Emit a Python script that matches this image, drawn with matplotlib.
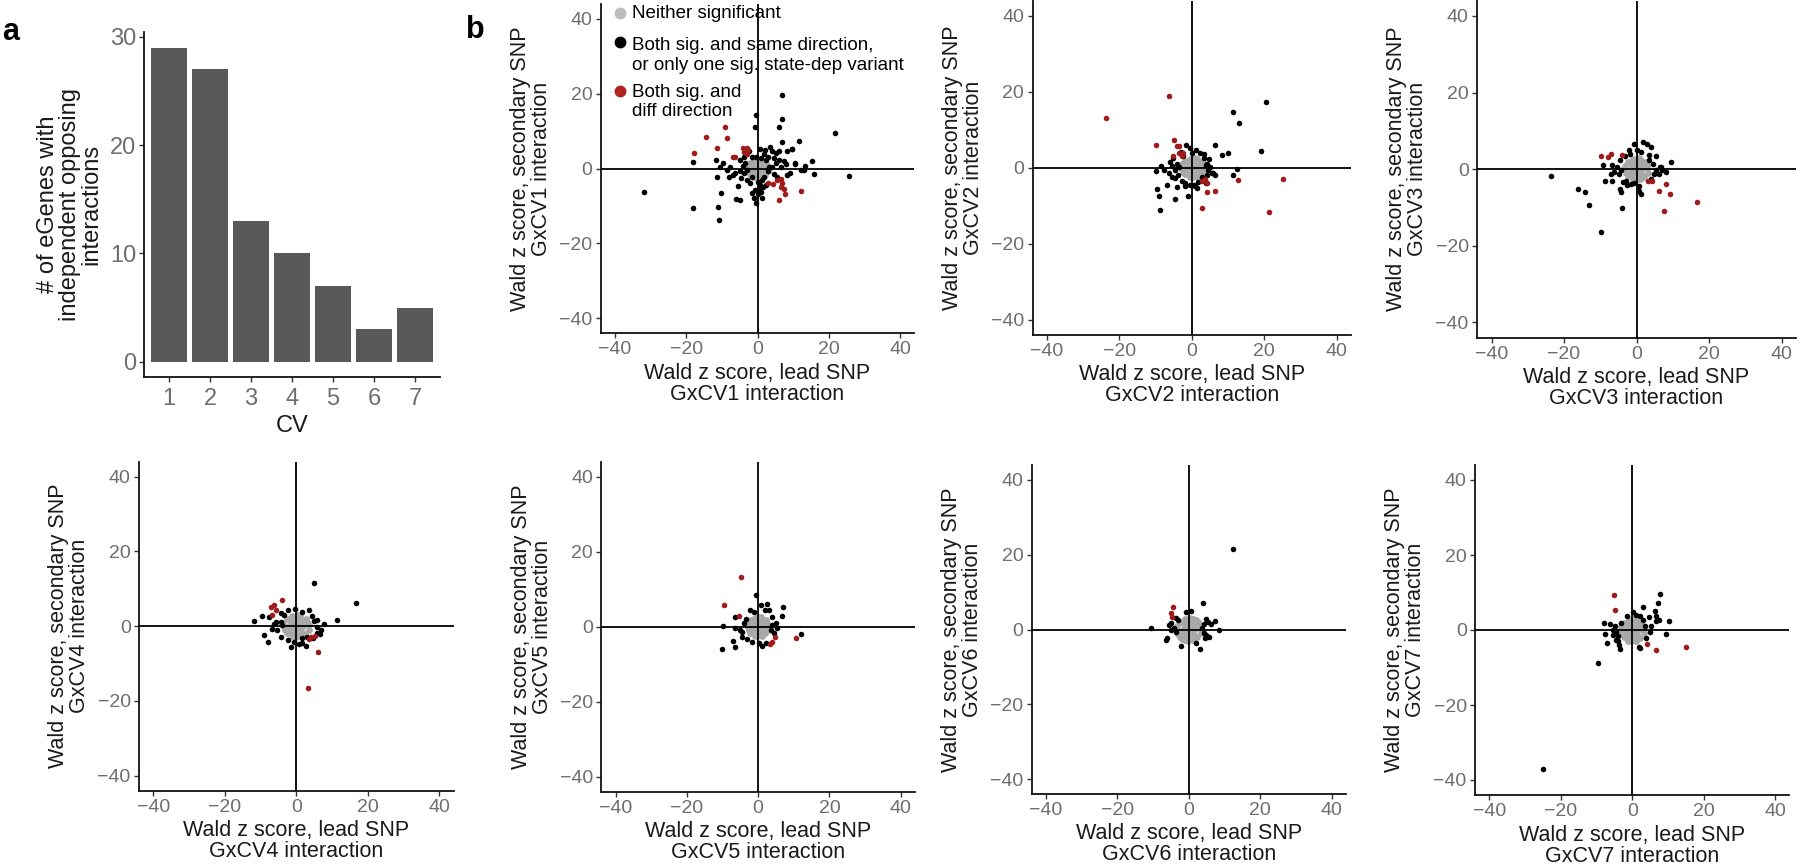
import matplotlib
matplotlib.use("Agg")
import matplotlib.pyplot as plt

plt.rcParams['font.family'] = ['Liberation Sans', 'DejaVu Sans']
plt.rcParams['axes.unicode_minus'] = True

W, H = 1800, 866

# ---------------- data ----------------
cv_labels = ["1", "2", "3", "4", "5", "6", "7"]
cv_counts = [29, 27, 13, 10, 7, 3, 5]

ticks = [-40, -20, 0, 20, 40]

legend_labels = ["Neither significant",
                 "Both sig. and same direction,\nor only one sig. state-dep variant",
                 "Both sig. and\ndiff direction"]

cv1_gray = [(0,0),(1.5,0.1),(-1.5,-0.1),(0.1,1.4),(-0.1,-1.4),(1.2,1.1),(-1.2,1.2),(1.1,-1.2),(-1.2,-1.1),(2.8,0.3),(-2.8,-0.2),(0.3,2.4),(-0.2,-2.4),(2.2,1.5),(-2.1,1.6),(2.0,-1.7),(-2.2,-1.5),(3.0,-0.8),(-3.0,0.8),(0.9,2.3),(-0.9,2.2),(1.0,-2.3),(-1.0,-2.3),(2.6,1.0),(-2.6,-1.0),(0.7,0.6),(-0.6,-0.7),(0.5,-0.8),(-0.7,0.5)]
cv1_black = [(25.7,-2.0),(-32.0,-6.2),(-18.2,-10.6),(-11.2,-10.4),(-10.7,-13.9),(-10.3,-6.6),(6.8,19.7),(6.8,13.3),(-0.5,14.3),(-0.7,11.0),(6.1,11.0),(21.7,9.4),(11.6,7.4),(6.8,7.1),(9.8,5.2),(15.2,2.0),(15.8,-1.6),(12.2,-0.4),(10.5,1.3),(8.1,1.3),(6.0,4.7),(-18.0,1.7),(-11.7,2.2),(-11.3,-2.3),(-8.0,-2.3),(-6.0,-8.2),(-4.8,-8.3),(-1.0,-7.9),(-0.4,-9.2),(1.2,-7.8),(8.2,-1.8),(9.1,-1.2),(-9.6,1.6),(-10.5,0.5),(-6.2,-1.3),(-5.0,-0.8),(-5.5,-4.8),(-0.8,-5.7),(0.7,-4.4),(1.3,-3.0),(0.1,-3.5),(2.2,5.0),(3.5,5.7),(4.1,4.6),(5.3,4.1),(6.0,2.3),(5.1,1.4),(6.5,0.5),(7.3,1.9),(8.2,4.6),(9.7,5.2),(10.4,1.4),(13.2,0.7),(13.0,-0.4),(1.8,3.9),(0.7,5.2),(-2.4,4.6),(-3.8,3.2),(-5.0,2.3),(-3.4,1.4),(-2.9,-0.4),(-3.8,-1.3),(-4.6,-2.6),(-2.9,-3.0),(-1.5,-2.3),(-2.0,-3.9),(1.8,-2.2),(2.9,-0.8),(3.2,0.5),(4.1,0.5),(2.5,2.2),(1.0,2.8),(-0.3,3.2),(-1.5,3.2),(-7.6,0.3),(-8.5,-0.4),(0.5,-5.5),(1.5,-5.0),(-1.5,-6.5),(3.0,3.2),(4.6,2.8),(-4.2,0.6),(-6.8,-1.8),(0.0,-6.8),(1.0,-6.3),(2.5,-4.5),(4.5,-1.5),(5.5,-2.2)]
cv1_red = [(-17.8,4.1),(-14.5,8.3),(-9.2,11.2),(-8.6,8.2),(-11.3,5.6),(-7.0,3.1),(-6.4,3.0),(-4.0,5.6),(-2.9,5.6),(-3.7,4.3),(-3.0,4.0),(-2.8,5.0),(12.1,-6.0),(6.0,-8.5),(2.9,-3.9),(4.4,-4.2),(5.5,-3.0),(6.5,-2.8),(7.0,-3.9),(7.4,-5.6),(7.6,-6.7),(6.5,-4.9)]

cv2_gray = [(0.5,0),(2.0,0.2),(-1.2,-0.1),(0.6,1.5),(0.4,-1.5),(1.8,1.2),(-0.8,1.3),(1.7,-1.3),(-0.9,-1.2),(3.6,0.3),(-2.6,-0.2),(0.8,2.5),(0.3,-2.5),(2.9,1.6),(-1.9,1.7),(2.7,-1.8),(-2.0,-1.6),(4.0,-0.9),(-2.8,0.9),(1.5,2.4),(-0.6,2.4),(1.6,-2.4),(-0.6,-2.4),(3.4,1.1),(-2.4,-1.1),(1.2,0.6),(-0.2,-0.7),(1.0,-0.8),(-0.3,0.6),(2.5,-0.3)]
cv2_black = [(20.6,17.2),(11.3,14.8),(13.0,11.8),(19.2,4.4),(9.9,3.9),(8.4,3.4),(6.3,6.0),(12.4,-0.2),(11.3,-2.0),(-8.7,-11.0),(-9.1,-7.3),(-9.5,-5.5),(-10.0,-0.9),(-4.7,-8.1),(-1.1,-7.4),(-6.8,-4.4),(-4.0,-5.1),(-1.7,5.9),(-8.5,0.6),(-7.8,-0.5),(-0.6,-4.6),(1.4,-5.2),(4.9,2.2),(4.0,0.7),(5.8,-1.5),(6.3,-2.0),(-6.4,-1.5),(-5.5,-2.4),(-4.6,-2.8),(-6.0,1.6),(-5.1,2.5),(-4.1,1.1),(1.2,4.6),(2.3,3.8),(3.4,2.5),(4.1,1.1),(4.6,-0.6),(5.5,-1.5),(4.1,-2.0),(3.2,-2.8),(1.8,-3.7),(0.5,-4.4),(-1.8,-4.1),(-2.8,-3.5),(-3.7,-1.9),(-0.5,5.1),(-3.0,4.2),(3.9,-3.9),(2.8,-2.5),(-3.5,0.3),(-4.5,-0.5),(-2.5,3.0),(0.0,4.0),(-2.0,-4.8),(1.0,-4.9),(3.5,3.5),(5.0,0.2),(-5.5,0.5)]
cv2_red = [(-23.6,13.2),(-6.3,18.8),(-9.9,5.9),(-4.9,7.3),(-4.2,5.8),(-3.4,5.8),(-5.1,3.2),(-3.4,3.8),(-2.8,3.0),(-2.5,4.0),(25.1,-2.9),(21.3,-11.7),(12.9,-3.2),(2.9,-10.5),(4.3,-6.3),(6.3,-6.1),(4.2,-3.9),(3.7,-3.0),(2.9,-3.6)]

cv3_gray = [(0,0),(1.6,0.1),(-1.6,-0.1),(0.1,1.6),(-0.1,-1.6),(1.3,1.3),(-1.3,1.3),(1.3,-1.3),(-1.3,-1.3),(3.0,0.3),(-3.0,-0.2),(0.3,2.9),(-0.2,-2.9),(2.4,1.8),(-2.3,1.9),(2.2,-2.0),(-2.4,-1.8),(3.1,-0.9),(-3.1,0.9),(1.0,2.7),(-1.0,2.6),(1.1,-2.7),(-1.1,-2.7),(2.8,1.1),(-2.8,-1.1),(0.7,0.7),(-0.7,-0.7),(0.6,-0.8),(-0.8,0.6)]
cv3_black = [(-23.5,-1.9),(-16.1,-5.2),(-14.3,-6.0),(-13.1,-9.3),(-9.9,-16.4),(-4.1,-10.2),(-4.4,-6.0),(-4.6,-5.3),(-8.8,-3.1),(-6.8,-3.1),(-9.2,1.0),(-6.8,1.2),(-2.2,5.1),(-0.8,6.5),(1.7,7.1),(2.9,6.5),(3.9,5.9),(5.4,3.3),(9.4,1.8),(8.0,-0.8),(7.0,-0.3),(6.4,0.5),(1.2,-6.5),(0.7,-5.8),(3.4,3.8),(-4.4,-0.3),(-5.3,0.5),(-6.3,-0.8),(-3.0,-3.0),(-0.7,-3.6),(4.8,-1.2),(-4.7,-1.2),(-3.8,-3.4),(-1.5,-3.8),(0.8,-4.3),(6.8,0.5),(6.3,-1.2),(5.4,-0.3),(3.4,2.3),(4.5,1.4),(-4.5,2.3),(-3.3,3.3),(-1.9,4.0),(1.3,4.5),(-7.0,-1.2),(0.0,5.0),(4.0,-2.5),(-2.5,-4.2)]
cv3_red = [(-9.7,3.3),(-8.0,3.2),(-6.9,4.0),(-3.9,3.6),(3.1,-3.2),(4.4,-3.0),(6.3,-5.8),(8.1,-4.0),(9.3,-6.6),(7.6,-11.0),(16.8,-8.6)]

cv4_gray = [(0,0),(1.7,0.1),(-1.7,-0.1),(0.1,1.6),(-0.1,-1.6),(1.4,1.3),(-1.4,1.3),(1.4,-1.3),(-1.4,-1.3),(3.5,0.3),(-3.5,-0.2),(0.3,2.9),(-0.2,-2.9),(2.7,1.8),(-2.6,1.9),(2.5,-2.0),(-2.7,-1.8),(3.6,-0.9),(-3.6,0.9),(1.1,2.7),(-1.1,2.6),(1.2,-2.7),(-1.2,-2.7),(3.1,1.1),(-3.1,-1.1),(0.8,0.7),(-0.8,-0.7),(0.6,-0.8),(-0.8,0.6),(2.0,0.0),(-2.0,0.0)]
cv4_black = [(4.9,11.6),(16.8,6.1),(11.4,1.7),(7.7,0.6),(-11.7,1.4),(-9.5,2.7),(-7.7,2.4),(-8.9,-2.4),(-7.9,-4.3),(-4.4,3.5),(-2.2,4.2),(-0.5,4.7),(1.5,3.7),(3.6,4.3),(4.3,2.8),(5.9,-0.1),(6.8,-0.9),(5.7,-1.7),(4.8,-3.2),(2.8,-5.2),(0.7,-4.8),(-0.7,-4.1),(-2.2,-3.7),(-4.4,-2.8),(-5.3,-1.0),(-3.9,0.4),(-4.4,1.2),(-6.7,-0.8),(-5.8,1.2),(5.0,1.3),(5.7,1.6),(3.1,-2.8),(1.7,-3.2),(-6.3,0.7),(-3.5,2.9),(-1.5,-5.5),(1.5,-4.5),(6.5,-2.2)]
cv4_red = [(-3.9,7.0),(-7.0,5.1),(-6.2,5.7),(-5.8,4.4),(-6.7,3.0),(3.5,-3.5),(4.2,-2.9),(5.1,-2.6),(6.1,-6.9),(3.3,-16.4)]

cv5_gray = [(0,0),(1.5,0.1),(-1.5,-0.1),(0.1,1.5),(-0.1,-1.5),(1.2,1.2),(-1.2,1.2),(1.2,-1.2),(-1.2,-1.2),(2.8,0.3),(-2.8,-0.2),(0.3,2.6),(-0.2,-2.6),(2.2,1.7),(-2.1,1.8),(2.0,-1.8),(-2.2,-1.7),(2.9,-0.9),(-2.9,0.9),(0.9,2.5),(-0.9,2.4),(1.0,-2.5),(-1.0,-2.5),(2.6,1.0),(-2.6,-1.0),(0.7,0.6),(-0.6,-0.7),(0.5,-0.8),(-0.7,0.5)]
cv5_black = [(-0.5,8.4),(11.9,-2.0),(-10.1,-6.0),(-6.5,-5.5),(-7.0,-3.8),(-10.0,0.2),(-6.5,2.7),(7.0,5.2),(6.7,2.8),(2.5,6.0),(0.7,5.8),(3.0,4.4),(3.9,2.7),(4.9,0.9),(5.3,-0.4),(3.5,-0.9),(1.1,-5.2),(0.2,-4.4),(-1.7,-4.0),(-3.1,-3.4),(-4.5,-2.7),(-5.0,-0.9),(-4.0,0.9),(-2.3,4.4),(-1.2,4.0),(-6.4,-0.4),(3.9,0.4),(2.1,-4.4),(-4.5,-1.5),(4.5,-1.8),(-3.5,2.0),(1.8,4.5)]
cv5_red = [(-4.9,13.3),(-9.6,5.9),(-5.4,2.8),(4.7,-2.8),(3.9,-4.2),(3.3,-4.6),(10.7,-2.9)]

cv6_gray = [(0,0),(1.7,0.1),(-1.7,-0.1),(0.1,1.7),(-0.1,-1.7),(1.4,1.4),(-1.4,1.4),(1.4,-1.4),(-1.4,-1.4),(3.3,0.3),(-3.3,-0.2),(0.3,3.0),(-0.2,-3.0),(2.6,1.9),(-2.5,2.0),(2.4,-2.1),(-2.6,-1.9),(3.4,-1.0),(-3.4,1.0),(1.1,2.8),(-1.1,2.8),(1.2,-2.8),(-1.2,-2.8),(3.0,1.2),(-3.0,-1.2),(0.8,0.7),(-0.8,-0.7),(0.6,-0.9),(-0.9,0.6),(2.0,2.6),(-2.0,-2.6)]
cv6_black = [(12.3,21.5),(4.0,7.0),(-10.5,0.5),(-0.9,4.8),(0.5,5.0),(-6.1,-2.4),(-6.5,-2.7),(-2.3,-4.4),(2.1,-3.5),(3.0,-5.1),(8.4,-0.2),(7.2,2.3),(6.3,1.6),(4.9,2.7),(4.2,1.6),(3.7,0.3),(4.2,-0.9),(5.6,-2.0),(4.7,-1.5),(-5.6,1.2),(-4.9,1.8),(-3.7,3.0),(-3.1,2.5),(-4.2,0.3),(-3.7,-0.6),(-5.1,-0.2),(5.5,2.0),(4.5,-2.3)]
cv6_red = [(-4.4,6.1),(-4.9,4.5),(-4.6,3.4)]

cv7_gray = [(0,0),(1.6,0.1),(-1.6,-0.1),(0.1,1.6),(-0.1,-1.6),(1.3,1.3),(-1.3,1.3),(1.3,-1.3),(-1.3,-1.3),(3.1,0.3),(-3.1,-0.2),(0.3,3.0),(-0.2,-3.0),(2.4,1.9),(-2.3,2.0),(2.2,-2.1),(-2.4,-1.9),(3.2,-0.9),(-3.2,0.9),(1.0,2.8),(-1.0,2.7),(1.1,-2.8),(-1.1,-2.8),(2.8,1.1),(-2.8,-1.1),(0.7,0.7),(-0.7,-0.7),(0.6,-0.8),(-0.8,0.6)]
cv7_black = [(-24.9,-37.0),(-9.5,-8.7),(7.7,9.7),(7.3,7.1),(10.2,2.3),(9.4,-1.0),(6.5,5.0),(6.8,3.7),(7.6,2.8),(6.6,2.5),(4.8,3.5),(2.9,6.1),(5.4,1.0),(4.9,-0.4),(3.8,-2.1),(2.0,-4.6),(2.1,-4.8),(-3.5,-5.0),(-3.6,-3.9),(-7.0,-3.5),(-7.7,-1.0),(-7.8,1.9),(-6.1,1.6),(-4.9,1.0),(-4.4,-0.4),(-5.3,-1.3),(-3.0,1.9),(-1.4,3.7),(0.3,4.7),(1.2,4.1),(2.1,3.7),(3.1,2.8),(3.5,1.0),(-3.9,-1.7),(-4.6,-2.6),(-4.0,-3.0),(-5.5,0.0)]
cv7_red = [(-5.0,9.3),(-4.9,5.3),(4.2,-3.6),(6.6,-5.3),(15.0,-4.6)]

panels = [
    ("1", cv1_gray, cv1_black, cv1_red),
    ("2", cv2_gray, cv2_black, cv2_red),
    ("3", cv3_gray, cv3_black, cv3_red),
    ("4", cv4_gray, cv4_black, cv4_red),
    ("5", cv5_gray, cv5_black, cv5_red),
    ("6", cv6_gray, cv6_black, cv6_red),
    ("7", cv7_gray, cv7_black, cv7_red),
]

# --------------- style ----------------
GRAY_PT = '#a8a8a8'
BLACK_PT = '#000000'
RED_PT = '#a01c1c'
TICK_COL = '#6e6e6e'
TXT_COL = '#1a1a1a'
PT_S = 16
GRAY_S = 24

fig = plt.figure(figsize=(W / 100, H / 100), dpi=100)


def add_ax(l, t, r, b):
    return fig.add_axes([l / W, 1 - b / H, (r - l) / W, (b - t) / H])


def style(ax, fs):
    for s in ['top', 'right']:
        ax.spines[s].set_visible(False)
    for s in ['left', 'bottom']:
        ax.spines[s].set_linewidth(1.3)
        ax.spines[s].set_color('#111111')
    ax.tick_params(axis='both', length=3.5, width=1.0, color='#333333',
                   labelcolor=TICK_COL, labelsize=fs, pad=2.5)


# --------------- panel a ---------------
axa = add_ax(144.4, 31.8, 439.6, 377.4)
xpos = list(range(1, len(cv_counts) + 1))
axa.bar(xpos, cv_counts, width=0.9, color='#595959', zorder=2)
axa.set_xlim(0.4, 7.6)
axa.set_ylim(-1.45, 30.45)
axa.set_xticks(xpos)
axa.set_xticklabels(cv_labels)
axa.set_yticks([0, 10, 20, 30])
style(axa, 17)
axa.tick_params(axis='x', pad=4)
axa.set_xlabel("CV", fontsize=17, color=TXT_COL, labelpad=4)
axa.set_ylabel("# of eGenes with\nindependent opposing\ninteractions", fontsize=17,
               color=TXT_COL, labelpad=5, linespacing=1.0)

# --------------- panels b --------------
boxes = [
    (600.75, 4, 914.25, 333),
    (1032.5, 0.6, 1351, 335),
    (1477, 0.6, 1796, 337.6),
    (139, 461.7, 453.6, 790.7),
    (601.4, 461.7, 914.9, 791.7),
    (1031.7, 465, 1346, 794),
    (1475, 465, 1789.4, 795),
]

axes_b = []
for (cv, g, k, r), box in zip(panels, boxes):
    ax = add_ax(*box)
    axes_b.append(ax)
    ax.scatter([p[0] for p in g], [p[1] for p in g], s=GRAY_S, c=GRAY_PT, linewidths=0, zorder=2)
    ax.scatter([p[0] for p in k], [p[1] for p in k], s=PT_S, c=BLACK_PT, linewidths=0, zorder=3)
    ax.scatter([p[0] for p in r], [p[1] for p in r], s=PT_S, c=RED_PT, linewidths=0, zorder=4)
    ax.axhline(0, color='black', lw=1.3, zorder=5)
    ax.axvline(0, color='black', lw=1.3, zorder=5)
    ax.set_xlim(-44, 44)
    ax.set_ylim(-44, 44)
    ax.set_xticks(ticks)
    ax.set_yticks(ticks)
    style(ax, 14)
    ax.set_xlabel("Wald z score, lead SNP\nGxCV%s interaction" % cv, fontsize=15.5,
                  color=TXT_COL, labelpad=3, linespacing=1.0)
    ax.set_ylabel("Wald z score, secondary SNP\nGxCV%s interaction" % cv, fontsize=15.5,
                  color=TXT_COL, labelpad=5, linespacing=1.0)

# --------------- legend (in panel b1) ---------------
leg_cols = ['#bdbdbd', '#000000', '#b22222']
leg_dot_y = [13, 42, 91]
leg_txt_y = [13, 55.5, 102]
for col, dy, ty, lab in zip(leg_cols, leg_dot_y, leg_txt_y, legend_labels):
    fig.add_artist(plt.Line2D([620 / W], [1 - dy / H], marker='o', markersize=7.5,
                              color=col, linestyle='none', transform=fig.transFigure))
    fig.text(632 / W, 1 - ty / H, lab, fontsize=13.5, color='black', ha='left',
             va='center', linespacing=1.2)

# --------------- panel letters ---------------
fig.text(2 / W, 1 - 32 / H, "a", fontsize=22, fontweight='bold', ha='left', va='center')
fig.text(466 / W, 1 - 30 / H, "b", fontsize=22, fontweight='bold', ha='left', va='center')

fig.savefig("out.png", dpi=100)
